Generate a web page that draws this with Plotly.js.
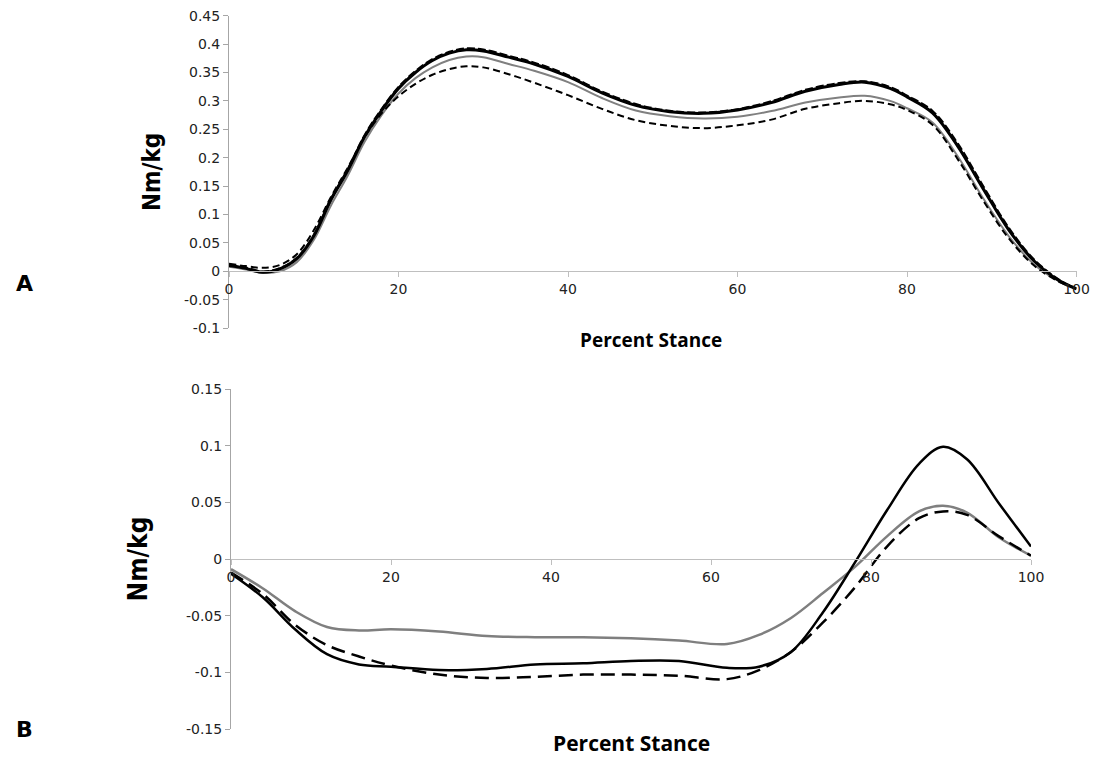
<!DOCTYPE html>
<html>
<head>
<meta charset="utf-8">
<script src="https://cdn.plot.ly/plotly-3.0.1.min.js"></script>
<style>html,body{margin:0;padding:0;background:#fff;}#chart{width:1098px;height:758px;}</style>
</head>
<body>
<div id="chart"></div>
<script>
// ---- Panel A data (Percent Stance vs Nm/kg) ----
const pctA = [0,2,4,6,8,10,12,14,16,18,20,22,24,26,28,30,33,36,40,44,48,52,56,60,64,68,72,75,78,80,83,86,89,92,95,98,100];
const seriesA1 = [0.010,0.005,-0.002,0.004,0.022,0.062,0.125,0.177,0.237,0.283,0.322,0.350,0.371,0.384,0.390,0.388,0.377,0.365,0.343,0.314,0.292,0.281,0.278,0.284,0.297,0.317,0.329,0.333,0.322,0.307,0.279,0.220,0.145,0.073,0.018,-0.017,-0.031];
const seriesA2 = [0.011,0.006,-0.001,0.005,0.023,0.063,0.126,0.179,0.239,0.285,0.324,0.352,0.373,0.386,0.392,0.390,0.379,0.367,0.345,0.316,0.294,0.282,0.279,0.285,0.299,0.319,0.331,0.334,0.324,0.309,0.282,0.224,0.149,0.076,0.020,-0.016,-0.031];
const seriesA3 = [0.008,0.003,-0.003,0.000,0.016,0.055,0.115,0.168,0.228,0.275,0.313,0.340,0.359,0.372,0.378,0.377,0.365,0.353,0.333,0.305,0.283,0.273,0.269,0.272,0.282,0.297,0.306,0.309,0.300,0.287,0.262,0.202,0.128,0.062,0.012,-0.018,-0.030];
const seriesA4 = [0.013,0.009,0.006,0.011,0.030,0.072,0.130,0.182,0.236,0.278,0.308,0.330,0.346,0.356,0.361,0.359,0.347,0.332,0.310,0.286,0.266,0.256,0.252,0.257,0.267,0.286,0.296,0.300,0.294,0.284,0.258,0.197,0.124,0.058,0.010,-0.019,-0.030];
const xTicksA = [0,20,40,60,80,100];
const yTicksA = [0.45,0.4,0.35,0.3,0.25,0.2,0.15,0.1,0.05,0,-0.05,-0.1];
const yTickTextA = ["0.45","0.4","0.35","0.3","0.25","0.2","0.15","0.1","0.05","0","-0.05","-0.1"];
const yRangeA = [-0.1,0.45];

// ---- Panel B data ----
const pctB = [0,4,8,12,16,20,26,32,38,44,50,56,62,66,70,74,78,82,86,89,92,96,100];
const seriesB1 = [-0.013,-0.034,-0.062,-0.084,-0.093,-0.095,-0.098,-0.097,-0.093,-0.092,-0.090,-0.090,-0.096,-0.095,-0.082,-0.047,-0.003,0.043,0.084,0.099,0.088,0.049,0.011];
const seriesB2 = [-0.009,-0.026,-0.046,-0.060,-0.063,-0.062,-0.064,-0.068,-0.069,-0.069,-0.070,-0.072,-0.075,-0.067,-0.052,-0.030,-0.007,0.020,0.042,0.047,0.041,0.019,0.003];
const seriesB3 = [-0.012,-0.031,-0.058,-0.076,-0.086,-0.094,-0.102,-0.105,-0.104,-0.102,-0.102,-0.103,-0.106,-0.098,-0.082,-0.056,-0.025,0.011,0.036,0.042,0.039,0.020,0.003];
const xTicksB = [0,20,40,60,80,100];
const yTicksB = [0.15,0.1,0.05,0,-0.05,-0.1,-0.15];
const yTickTextB = ["0.15","0.1","0.05","0","-0.05","-0.1","-0.15"];
const yRangeB = [-0.15,0.15];

const W = 1098, H = 758;
const domXA = [229/W, 1076.5/W];
const domYA = [1-328/H, 1-15.7/H];
const domXB = [231/W, 1031/W];
const domYB = [1-729/H, 1-389/H];
function zeroPos(dom, rng){ return dom[0] + (0 - rng[0])/(rng[1]-rng[0])*(dom[1]-dom[0]); }

const tickFont = {family:'DejaVu Sans, Verdana, sans-serif', size:14, color:'#222'};
const titleFamily = 'DejaVu Sans Condensed, Liberation Sans Narrow, Arial Narrow, Liberation Sans, sans-serif';

const traces = [
  {x:pctA, y:seriesA3, xaxis:'x', yaxis:'y', mode:'lines', line:{color:'#808080', width:2, shape:'spline'}},
  {x:pctA, y:seriesA4, xaxis:'x', yaxis:'y', mode:'lines', line:{color:'#000', width:2, dash:'7px,4px', shape:'spline'}},
  {x:pctA, y:seriesA1, xaxis:'x', yaxis:'y', mode:'lines', line:{color:'#000', width:3, shape:'spline'}},
  {x:pctA, y:seriesA2, xaxis:'x', yaxis:'y', mode:'lines', line:{color:'#000', width:2.5, dash:'8px,3px', shape:'spline'}},
  {x:pctB, y:seriesB2, xaxis:'x2', yaxis:'y2', mode:'lines', line:{color:'#7f7f7f', width:2.5, shape:'spline'}},
  {x:pctB, y:seriesB3, xaxis:'x2', yaxis:'y2', mode:'lines', line:{color:'#000', width:2.5, dash:'14px,7px', shape:'spline'}},
  {x:pctB, y:seriesB1, xaxis:'x2', yaxis:'y2', mode:'lines', line:{color:'#000', width:2.5, shape:'spline'}}
];

const xCommon = {range:[0,100], showgrid:false, zeroline:false, showline:true, linecolor:'#bfbfbf', linewidth:1,
  ticks:'outside', ticklen:5, tickcolor:'#bfbfbf', tickfont:tickFont, anchor:'free'};
const yCommon = {showgrid:false, zeroline:false, showline:true, linecolor:'#a6a6a6', linewidth:1,
  ticks:'outside', ticklen:5, tickcolor:'#a6a6a6', tickfont:tickFont, tickmode:'array'};

const layout = {
  width:W, height:H, margin:{l:0,r:0,t:0,b:0}, showlegend:false,
  paper_bgcolor:'#fff', plot_bgcolor:'rgba(0,0,0,0)',
  xaxis: Object.assign({}, xCommon, {domain:domXA, position:zeroPos(domYA,yRangeA), tickvals:xTicksA, tickmode:'array'}),
  yaxis: Object.assign({}, yCommon, {domain:domYA, range:yRangeA, tickvals:yTicksA, ticktext:yTickTextA, anchor:'x',
    title:{text:'Nm/kg', standoff:16, font:{family:titleFamily, size:24, color:'#000', weight:'bold'}}}),
  xaxis2: Object.assign({}, xCommon, {domain:domXB, position:zeroPos(domYB,yRangeB), tickvals:xTicksB, tickmode:'array'}),
  yaxis2: Object.assign({}, yCommon, {domain:domYB, range:yRangeB, tickvals:yTicksB, ticktext:yTickTextB, anchor:'x2',
    title:{text:'Nm/kg', standoff:30, font:{family:titleFamily, size:26, color:'#000', weight:'bold'}}}),
  annotations: [
    {text:'<b>Percent Stance</b>', xref:'paper', yref:'paper', x:651/W, y:1-340/H, showarrow:false, xanchor:'center', yanchor:'middle',
      font:{family:'Open Sans, Liberation Sans, sans-serif', size:19, color:'#000'}},
    {text:'<b>Percent Stance</b>', xref:'paper', yref:'paper', x:631/W, y:1-743/H, showarrow:false, xanchor:'center', yanchor:'middle',
      font:{family:'Open Sans, Liberation Sans, sans-serif', size:21, color:'#000'}},
    {text:'<b>A</b>', xref:'paper', yref:'paper', x:24/W, y:1-284/H, showarrow:false, xanchor:'center', yanchor:'middle',
      font:{family:'DejaVu Sans, sans-serif', size:22, color:'#000'}},
    {text:'<b>B</b>', xref:'paper', yref:'paper', x:24/W, y:1-729/H, showarrow:false, xanchor:'center', yanchor:'middle',
      font:{family:'DejaVu Sans, sans-serif', size:22, color:'#000'}}
  ]
};

Plotly.newPlot('chart', traces, layout, {displayModeBar:false, staticPlot:true});
</script>
</body>
</html>
